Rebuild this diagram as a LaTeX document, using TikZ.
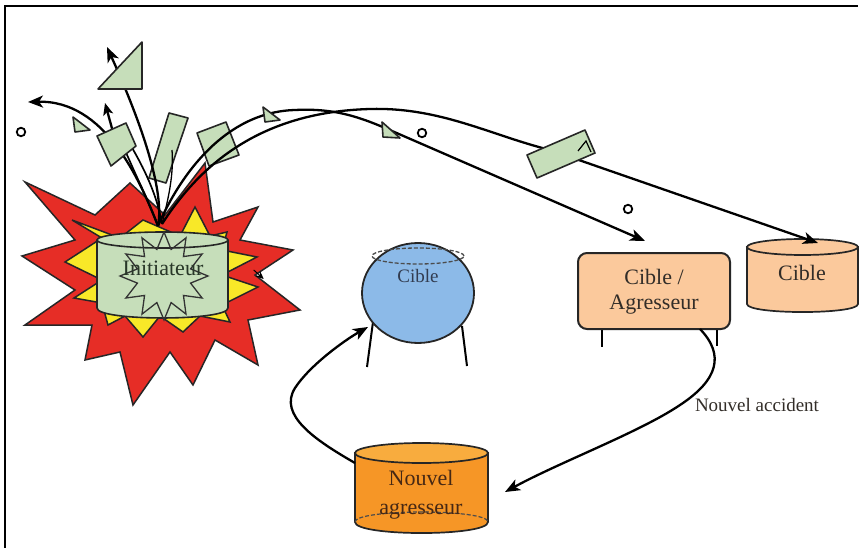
\documentclass[tikz,border=0pt]{standalone}
\usepackage{fontspec}
\setmainfont{Liberation Serif}
\usetikzlibrary{arrows.meta,shapes.geometric}
\definecolor{fragG}{RGB}{198,222,186}
\definecolor{redX}{RGB}{230,45,38}
\definecolor{yelX}{RGB}{248,232,40}
\definecolor{blueS}{RGB}{140,186,232}
\definecolor{peach}{RGB}{251,201,156}
\definecolor{orangeN}{RGB}{246,150,38}
\definecolor{orangeT}{RGB}{248,172,62}
\definecolor{txt}{RGB}{50,45,40}
\definecolor{txtG}{RGB}{40,55,40}
\definecolor{txtB}{RGB}{50,60,80}
\definecolor{txtO}{RGB}{70,40,20}
\tikzset{
  traj/.style={draw=black, line width=2.3pt},
  arr/.style={traj, -{Stealth[length=15pt,width=12pt,inset=4pt]}},
  frag/.style={fill=fragG, draw=black!85, line width=1.6pt, line join=round},
  outl/.style={draw=black!85, line width=1.5pt, line join=miter},
  pebble/.style={circle, draw=black, line width=1.8pt, fill=white, inner sep=0pt, minimum size=8.5pt},
  lbl/.style={font=\fontsize{22}{25}\selectfont, align=center, inner sep=0pt},
  leg/.style={draw=black, line width=2pt},
}
\begin{document}
\begin{tikzpicture}[x=1pt,y=1pt]
\useasboundingbox (0,0) rectangle (859,-548);
\fill[white] (0,0) rectangle (859,-548);
\draw[line width=1.8pt] (5,-548) -- (5,-6) -- (858,-6);

% explosion
\path[outl, fill=redX] (25,-182) -- (95,-215) -- (130,-183) -- (165,-215) -- (205,-163) -- (213,-222) -- (258,-207) -- (240,-240) -- (293,-250) -- (255,-275) -- (300,-310) -- (248,-320) -- (258,-365) -- (215,-340) -- (193,-385) -- (170,-352) -- (133,-405) -- (120,-352) -- (85,-360) -- (92,-325) -- (25,-325) -- (75,-290) -- (22,-256) -- (75,-240) -- cycle;
\path[outl, fill=yelX] (72,-220) -- (102,-238) -- (65,-262) -- (102,-280) -- (74,-298) -- (102,-303) -- (108,-325) -- (125,-316) -- (143,-337) -- (160,-316) -- (183,-332) -- (200,-316) -- (230,-322) -- (222,-305) -- (258,-287) -- (222,-275) -- (257,-257) -- (222,-250) -- (227,-232) -- (210,-236) -- (195,-207) -- (180,-236) -- (143,-220) -- (120,-238) -- cycle;

% initiateur cylinder
\path[frag] (97,-240) -- (97,-308) .. controls (97,-321.3) and (228,-321.3) .. (228,-308) -- (228,-240) -- cycle;
\path[frag] (162.5,-240) ellipse [x radius=65.5, y radius=8];
\node[star, star points=12, star point ratio=1.6, minimum size=88pt, inner sep=0pt, draw=black!80, line width=1.3pt] (burst) at (164,-276) {};
\node[lbl, text=txtG] (init) at (163,-268) {Initiateur};
\draw[-{Stealth[length=8pt,width=7pt]}, line width=1pt] (burst.east) ++(44,6) coordinate (smallS) -- ++(10,-9) coordinate (smallE);

\coordinate (ex) at (158,-226);
\coordinate (ex2) at (162,-224);

% fragment 2 (long thin)
\path[frag] (169,-113) -- (188,-118) -- (166,-183) -- (149,-178) -- cycle;
\draw[line width=1.3pt] (ex2) .. controls (168,-200) and (174,-175) .. (172,-150) coordinate (f2in);
% fragment 3
\path[frag] (197,-133) -- (226,-122) -- (239,-155) -- (209,-166) -- cycle;

% arrow to top triangle
\draw[arr] (ex) .. controls (165,-190) and (140,-120) .. (107,-47) coordinate (tipT);
\path[frag] (98,-89) -- (142,-89) -- (142,-42) -- cycle;

% left arrow
\draw[arr] (ex) .. controls (140,-180) and (105,-100) .. (28,-102) coordinate (tipL);
\path[frag] (73,-117) -- (75,-132) -- (90,-130) -- cycle;

% fragment 1 with lines
\draw[arr, -{Stealth[length=12pt,width=10pt,inset=3pt]}] (113,-132) -- (105,-103) coordinate (tipU);
\draw[traj, line width=1.7pt] (124,-148) .. controls (138,-180) and (150,-205) .. (ex);
\draw[traj, line width=1.7pt] (131,-146) .. controls (148,-175) and (158,-200) .. (ex2);
\path[frag] (97,-136) -- (126,-123) -- (136,-146) -- (111,-166) -- cycle;

% pebbles
\node[pebble] (p1) at (21,-132) {};
\node[pebble] (p2) at (422,-133) {};
\node[pebble] (p3) at (628,-209) {};

% Cible / Agresseur box
\draw[leg] (602,-325) -- (602,-347);
\draw[leg] (717,-325) -- (717,-346);
\node[draw=black!85, line width=2pt, fill=peach, rounded corners=9pt, minimum width=152pt, minimum height=76pt, inner sep=0pt] (ca) at (654,-291) {};
\node[lbl, text=txt] (calbl) at (654,-292) {Cible /\\Agresseur};

% Cible cylinder (right)
\path[draw=black!85, line width=1.7pt, fill=peach] (747,-247) -- (747,-304) .. controls (747,-314.7) and (858,-314.7) .. (858,-304) -- (858,-247) -- cycle;
\path[draw=black!85, line width=1.7pt, fill=peach] (802.5,-247) ellipse [x radius=55.5, y radius=8];
\node[lbl, text=txt] (cible2) at (802,-273) {Cible};

% trajectories to targets
\coordinate (tipCA) at (645,-241);
\coordinate (tipC) at (818,-243);
\draw[arr] (ex) .. controls (180,-175) and (225,-112) .. (295,-110) .. controls (335,-108) and (360,-117) .. (392,-131) -- (tipCA);
\draw[arr] (ex2) .. controls (200,-165) and (260,-112) .. (370,-109) .. controls (440,-107) and (490,-135) .. (550,-150) -- (tipC);
\path[frag] (263,-107) -- (265,-122) -- (280,-120) -- cycle;
\path[frag] (382,-122) -- (383,-137) -- (400,-138) -- cycle;
\path[frag] (527,-155) -- (585,-130) -- (595,-153) -- (537,-178) -- cycle;
\draw[line width=1.2pt] (578,-151) -- (586,-141) -- (591,-152);

% sphere
\draw[leg] (373,-322) -- (367,-367);
\draw[leg] (462,-326) -- (467,-366);
\node[ellipse, draw=black!85, line width=1.8pt, fill=blueS, minimum width=112pt, minimum height=100pt, inner sep=0pt] (sph) at (418,-293) {};
\draw[dashed, dash pattern=on 4pt off 2pt, line width=1.3pt, draw=black!70] (418,-256) ellipse [x radius=46, y radius=8];
\node[font=\fontsize{19}{21}\selectfont, text=txtB, inner sep=0pt] (sphlbl) at (418,-276) {Cible};

% Nouvel agresseur cylinder
\path[draw=black!85, line width=1.7pt, fill=orangeN] (355,-453) -- (355,-522) .. controls (355,-536.7) and (488,-536.7) .. (488,-522) -- (488,-453) -- cycle;
\draw[dashed, dash pattern=on 4pt off 2pt, line width=1.2pt, draw=black!70] (355,-522) .. controls (355,-508.7) and (488,-508.7) .. (488,-522);
\path[draw=black!85, line width=1.7pt, fill=orangeT] (421.5,-453) ellipse [x radius=66.5, y radius=10];
\node[lbl, text=txtO] (nalbl) at (421,-495) {Nouvel\\[4pt]agresseur};

% nouvel accident arrow
\coordinate (accS) at (700,-329);
\coordinate (accE) at (505,-492);
\draw[arr] (accS) .. controls (725,-355) and (718,-380) .. (680,-405) .. controls (640,-432) and (560,-462) .. (accE);
\node[font=\fontsize{19}{21}\selectfont, text=txt, inner sep=0pt] (acclbl) at (757,-405) {Nouvel accident};

% return arrow to sphere
\coordinate (naS) at (355,-463);
\coordinate (sphIn) at (368,-327);
\draw[arr] (naS) .. controls (315,-440) and (278,-415) .. (295,-388) .. controls (310,-365) and (345,-340) .. (sphIn);
\end{tikzpicture}
\end{document}
